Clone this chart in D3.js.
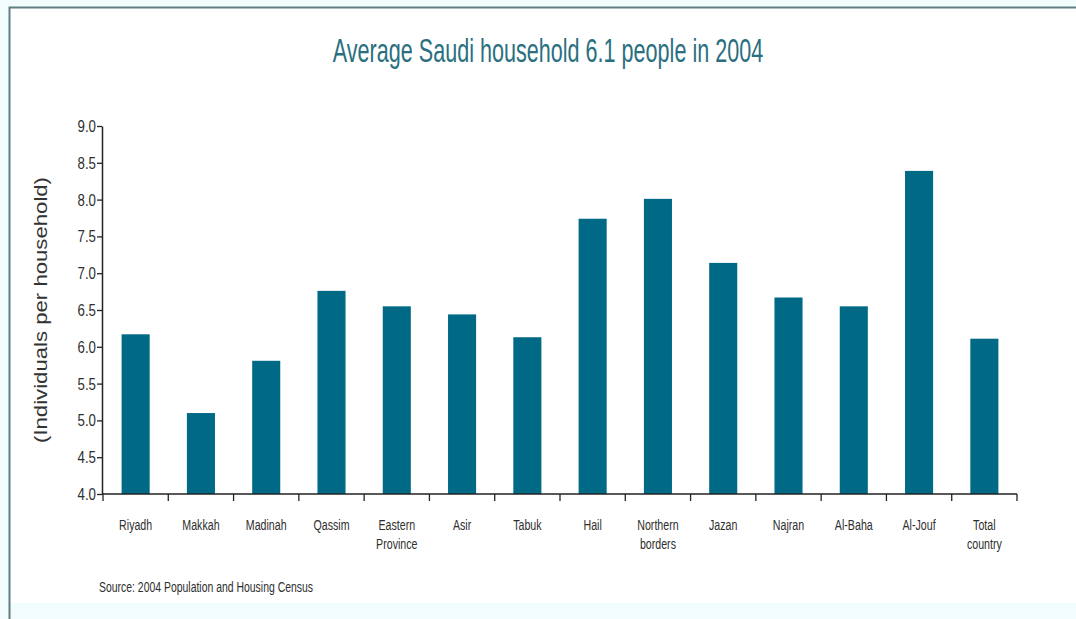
<!DOCTYPE html>
<html><head><meta charset="utf-8">
<script src="https://cdn.jsdelivr.net/npm/d3@7"></script>
<style>
body{margin:0;background:#f3fcfc;}
svg{display:block;}
text{font-family:"Liberation Sans",Arial,sans-serif;}
</style></head>
<body>
<svg id="chart" width="1076" height="619"></svg>
<script>
const categories = ["Riyadh","Makkah","Madinah","Qassim","Eastern\nProvince","Asir","Tabuk","Hail","Northern\nborders","Jazan","Najran","Al-Baha","Al-Jouf","Total\ncountry"];
const values = [6.17,5.10,5.81,6.76,6.55,6.44,6.13,7.74,8.01,7.14,6.67,6.55,8.39,6.11];
const yTicks = [4.0,4.5,5.0,5.5,6.0,6.5,7.0,7.5,8.0,8.5,9.0];
const titleText = "Average Saudi household 6.1 people in 2004";
const yLabel = "(Individuals per household)";
const sourceText = "Source: 2004 Population and Housing Census";

const svg = d3.select("#chart");
svg.append("rect").attr("x",9).attr("y",7).attr("width",1067).attr("height",596).attr("fill","#ffffff");
svg.append("path").attr("d","M9.5,619 V7.5 H1076").attr("fill","none").attr("stroke","#5f7f82").attr("stroke-width",2);

const x = d3.scaleBand().domain(categories).range([103,1017]).paddingInner(0.57).paddingOuter(0.285);
const y = d3.scaleLinear().domain([4,9]).range([494,126]);

function ctext(parent, tx, ty, sx, size, anchor, fill, str){
  const g = parent.append("g").attr("transform",`translate(${tx},${ty}) scale(${sx},1)`);
  return g.append("text").attr("text-anchor",anchor).attr("font-size",size).attr("fill",fill).text(str);
}

ctext(svg, 548, 62, 0.635, 34, "middle", "#2a6f80", titleText);

svg.append("g").selectAll("rect").data(values).join("rect")
  .attr("x",(d,i)=>x(categories[i])).attr("width",x.bandwidth())
  .attr("y",d=>y(d)).attr("height",d=>y(4)-y(d)).attr("fill","#006a86");

const ya = svg.append("g").attr("transform","translate(102,0)")
  .call(d3.axisLeft(y).tickValues(yTicks).tickFormat(d3.format(".1f")).tickSize(5).tickSizeOuter(0));
ya.select(".domain").attr("stroke","#222").attr("stroke-width",1.5);
ya.selectAll(".tick line").attr("stroke","#222").attr("stroke-width",1.3);
ya.selectAll(".tick text").attr("x",0).attr("font-size",17).attr("fill","#2e2e2e")
  .attr("font-family","Liberation Sans, Arial, sans-serif")
  .attr("transform","translate(-6,0) scale(0.78,1)");

const xa = svg.append("g").attr("transform","translate(0,494)");
xa.append("line").attr("x1",102).attr("x2",1017).attr("stroke","#222").attr("stroke-width",1.5);
const step = x.step();
const bounds = d3.range(categories.length+1).map(i=>x(categories[0]) - x.paddingOuter()*step + i*step);
xa.selectAll(".xt").data(bounds).join("line").attr("class","xt")
  .attr("x1",d=>d).attr("x2",d=>d).attr("y1",0).attr("y2",7).attr("stroke","#222").attr("stroke-width",1.3);
categories.forEach(c=>{
  const t = ctext(xa, x(c)+x.bandwidth()/2, 36, 0.71, 15, "middle", "#2e2e2e", null);
  c.split("\n").forEach((s,i)=>t.append("tspan").attr("x",0).attr("dy",i?19:0).text(s));
});

const yl = svg.append("g").attr("transform","translate(47,310) rotate(-90)");
yl.append("text").attr("text-anchor","middle").attr("font-size",19).attr("fill","#333")
  .attr("textLength",266).attr("lengthAdjust","spacingAndGlyphs").text(yLabel);

ctext(svg, 99, 592, 0.72, 14.5, "start", "#2e2e2e", sourceText);
</script>
</body></html>
